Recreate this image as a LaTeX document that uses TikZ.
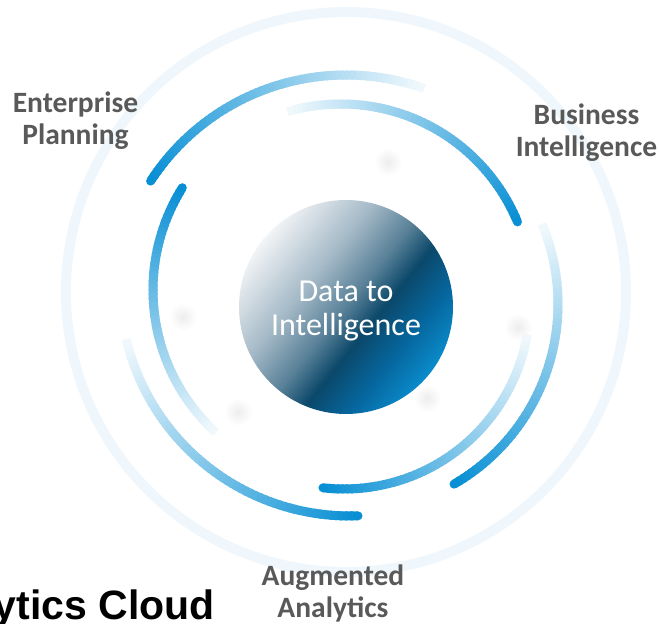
\documentclass[tikz,border=0pt]{standalone}
\usepackage{fontspec}
\setmainfont{Carlito}
\newfontfamily\titlefont{Liberation Sans}
\usetikzlibrary{positioning}

\definecolor{arcblue}{RGB}{8,143,212}
\definecolor{ringblue}{RGB}{239,247,252}
\definecolor{labelgray}{RGB}{89,89,89}
\definecolor{corea}{RGB}{242,244,246}
\definecolor{coreb}{RGB}{163,184,198}
\definecolor{corec}{RGB}{88,128,151}
\definecolor{cored}{RGB}{11,72,106}
\definecolor{coree}{RGB}{6,102,157}
\definecolor{coref}{RGB}{10,139,203}

\pgfdeclarehorizontalshading{coreshade}{100bp}{color(0bp)=(corea); color(25bp)=(corea); color(40bp)=(coreb); color(50bp)=(corec); color(57bp)=(cored); color(66bp)=(coree); color(75bp)=(coref); color(100bp)=(coref)}

\tikzset{
    arcline/.style={line width=9pt, line cap=butt},
    sidelabel/.style={align=center, text=labelgray, font=\bfseries\fontsize{29.5}{32}\selectfont},
    blob/.style={inner color=black!7, outer color=white}
}

% arc that fades from full blue to white: centre, radius, dark angle, faint angle
\newcommand{\glowarc}[4]{%
    \foreach \k in {0,...,59} {
        \pgfmathsetmacro{\angA}{#3+(#4-#3)*\k/60}
        \pgfmathsetmacro{\angB}{#3+(#4-#3)*(\k+1.5)/60}
        \pgfmathsetmacro{\mixval}{100-94*\k/59}
        \draw[arcline, arcblue!\mixval!white, shift={(#1)}] (\angA:#2) arc[start angle=\angA, end angle=\angB, radius=#2];
    }
    \fill[arcblue, shift={(#1)}] (#3:#2) circle (4.5);
}

\begin{document}
\begin{tikzpicture}[x=1pt, y=1pt]
    \useasboundingbox (0,0) rectangle (659,624);

    % faint outer ring
    \draw[ringblue, line width=10pt] (346,332) circle (280);

    % soft grey spots
    \shade[blob] (388,462) circle (14);
    \shade[blob] (183,307) circle (14);
    \shade[blob] (238,212) circle (14);
    \shade[blob] (427,226) circle (14);
    \shade[blob] (518,297) circle (14);

    % three pairs of arcs
    \glowarc{346,316}{233}{147}{71}
    \glowarc{341,329}{191}{22.5}{105.6}
    \glowarc{346,334}{193}{148}{227}
    \glowarc{350,338}{230}{272}{194}
    \glowarc{344,321}{186}{263.5}{349.5}
    \glowarc{350,320}{208}{-60}{22}

    % centre
    \node[circle, minimum size=214pt, inner sep=0pt, shade, shading=coreshade, shading angle=-38.7] (core) at (346,317) {};
    \node[text=white, align=center, font=\fontsize{32}{34}\selectfont] (coretext) at (346,313) {Data to\\Intelligence};

    \node[sidelabel] (ep) at (75.5,503) {Enterprise\\Planning};
    \node[sidelabel] (bi) at (586.5,491.5) {Business\\Intelligence};
    \node[sidelabel] (aa) at (333,31) {Augmented\\Analytics};

    \node[anchor=base east, inner sep=0pt, font=\titlefont\bfseries\fontsize{41}{41}\selectfont] (title) at (215,4) {ytics Cloud};
\end{tikzpicture}
\end{document}
